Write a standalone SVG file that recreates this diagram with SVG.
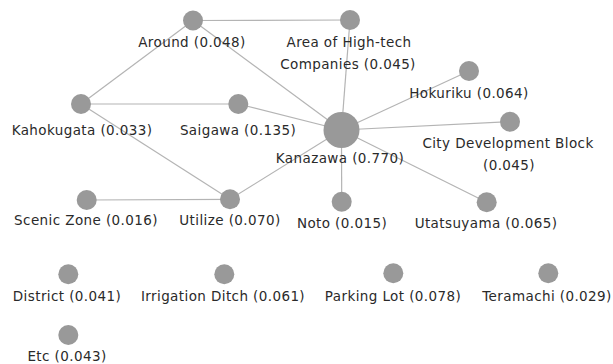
<svg xmlns="http://www.w3.org/2000/svg" width="613" height="364" viewBox="0 0 613 364">
<style>
.n{fill:#999999}
.e{stroke:#b4b4b4;stroke-width:1.2;fill:none}
text{font-family:"DejaVu Sans",Verdana,sans-serif;font-size:13.5px;letter-spacing:0.4px;fill:#2a2a2a;text-anchor:middle}
</style>
<rect width="613" height="364" fill="#fff"/>
<g id="connectors">
<line class="e" x1="193" y1="20.5" x2="350" y2="20"/>
<line class="e" x1="193" y1="20.5" x2="81" y2="104"/>
<line class="e" x1="193" y1="20.5" x2="341.5" y2="130"/>
<line class="e" x1="350" y1="20" x2="341.5" y2="130"/>
<line class="e" x1="81" y1="104" x2="238.3" y2="104"/>
<line class="e" x1="81" y1="104" x2="230" y2="199.3"/>
<line class="e" x1="238.3" y1="104" x2="341.5" y2="130"/>
<line class="e" x1="341.5" y1="130" x2="469" y2="71"/>
<line class="e" x1="341.5" y1="130" x2="510" y2="121.7"/>
<line class="e" x1="341.5" y1="130" x2="230" y2="199.3"/>
<line class="e" x1="341.5" y1="130" x2="341.7" y2="201.7"/>
<line class="e" x1="341.5" y1="130" x2="486.7" y2="202.3"/>
<line class="e" x1="86.7" y1="200" x2="230" y2="199.3"/>
</g>
<g id="around"><circle class="n" cx="193" cy="20.5" r="10"/><text x="192" y="47">Around (0.048)</text></g>
<g id="hightech"><circle class="n" cx="350" cy="20" r="10"/><text x="349" y="47">Area of High-tech</text><text x="348" y="69">Companies (0.045)</text></g>
<g id="kahokugata"><circle class="n" cx="81" cy="104" r="10"/><text x="82" y="135">Kahokugata (0.033)</text></g>
<g id="saigawa"><circle class="n" cx="238.3" cy="104" r="10"/><text x="238" y="135">Saigawa (0.135)</text></g>
<g id="kanazawa"><circle class="n" cx="341.5" cy="130" r="18"/><text x="340" y="163">Kanazawa (0.770)</text></g>
<g id="hokuriku"><circle class="n" cx="469" cy="71" r="10"/><text x="469" y="98">Hokuriku (0.064)</text></g>
<g id="citydev"><circle class="n" cx="510" cy="121.7" r="10"/><text x="508" y="148">City Development Block</text><text x="509" y="170">(0.045)</text></g>
<g id="scenic"><circle class="n" cx="86.7" cy="200" r="10"/><text x="86" y="225">Scenic Zone (0.016)</text></g>
<g id="utilize"><circle class="n" cx="230" cy="199.3" r="10"/><text x="230" y="225">Utilize (0.070)</text></g>
<g id="noto"><circle class="n" cx="341.7" cy="201.7" r="10"/><text x="342" y="228">Noto (0.015)</text></g>
<g id="utatsuyama"><circle class="n" cx="486.7" cy="202.3" r="10"/><text x="486" y="228">Utatsuyama (0.065)</text></g>
<g id="district"><circle class="n" cx="68.3" cy="274.3" r="10"/><text x="67" y="301">District (0.041)</text></g>
<g id="irrigation"><circle class="n" cx="224.3" cy="274.3" r="10"/><text x="223" y="301">Irrigation Ditch (0.061)</text></g>
<g id="parking"><circle class="n" cx="393.3" cy="273.3" r="10"/><text x="393" y="301">Parking Lot (0.078)</text></g>
<g id="teramachi"><circle class="n" cx="548.3" cy="273.3" r="10"/><text x="547" y="301">Teramachi (0.029)</text></g>
<g id="etc"><circle class="n" cx="68.3" cy="335" r="10"/><text x="67" y="361">Etc (0.043)</text></g>
</svg>
